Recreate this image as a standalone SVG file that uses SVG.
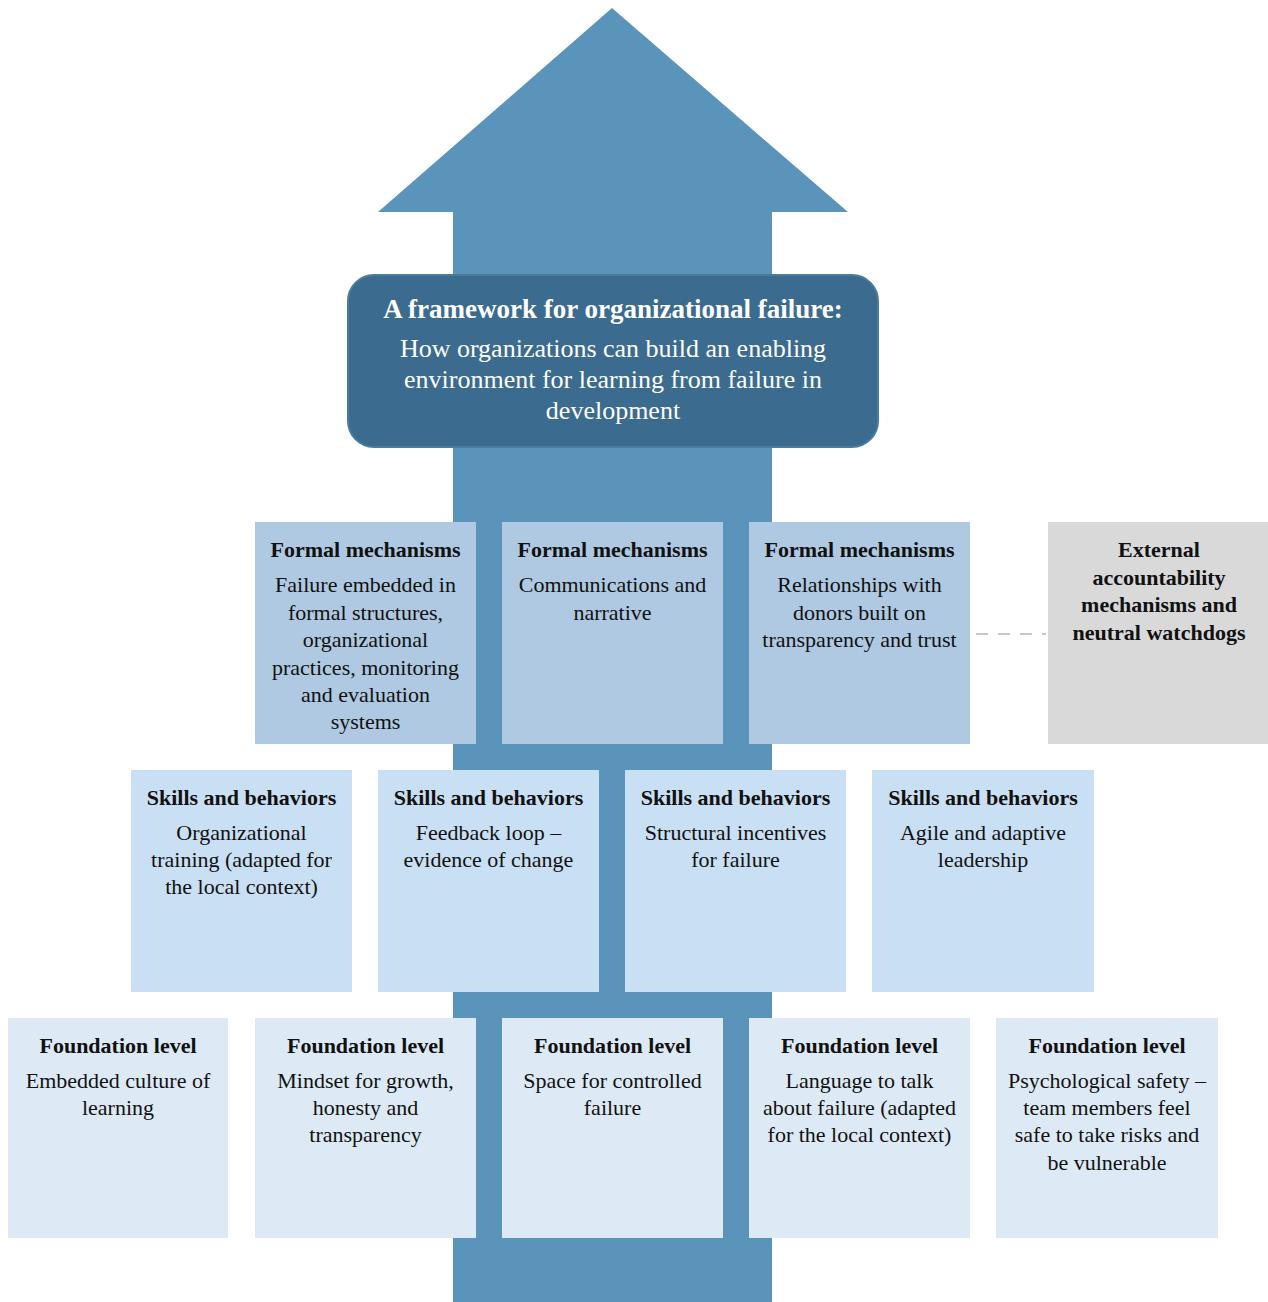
<svg xmlns="http://www.w3.org/2000/svg" width="1268" height="1302" viewBox="0 0 1268 1302">
<style>
text{font-family:'Liberation Serif',Tinos,'DejaVu Serif',serif;text-anchor:middle;fill:#111}
.h{font-weight:bold;font-size:22px}
.b{font-size:22px}
.fm{fill:#aec9e1}
.sb{fill:#c9dff3}
.fd{fill:#ddeaf6}
.ex{fill:#d9d9d9}
.tt{fill:#fff;font-weight:bold;font-size:27px}
.ts{fill:#fff;font-size:26px}
</style>
<rect width="1268" height="1302" fill="#fff"/>
<g id="arrow">
<polygon points="612,8 848,212 772,212 772,1302 453,1302 453,212 378,212" fill="#5b94bb"/>
</g>
<g id="title" font-family="Liberation Serif, serif">
<rect x="348" y="275" width="530" height="172" rx="26" fill="#3b6b8e" stroke="#4a7ca0" stroke-width="2"/>
<text x="613" y="318" class="tt">A framework for organizational failure:</text>
<text x="613" y="357" class="ts">How organizations can build an enabling</text>
<text x="613" y="388" class="ts">environment for learning from failure in</text>
<text x="613" y="419" class="ts">development</text>
</g>
<g id="connectors">
<line x1="976" y1="634" x2="1046" y2="634" stroke="#c8c8c8" stroke-width="2" stroke-dasharray="12,10"/>
</g>
<g id="formal1">
<rect x="255" y="522" width="221" height="222" class="fm"/>
<text x="365.5" y="557" class="h">Formal mechanisms</text>
<text x="365.5" y="592" class="b">Failure embedded in</text>
<text x="365.5" y="620" class="b">formal structures,</text>
<text x="365.5" y="647" class="b">organizational</text>
<text x="365.5" y="675" class="b">practices, monitoring</text>
<text x="365.5" y="702" class="b">and evaluation</text>
<text x="365.5" y="729" class="b">systems</text>
</g>
<g id="formal2">
<rect x="502" y="522" width="221" height="222" class="fm"/>
<text x="612.5" y="557" class="h">Formal mechanisms</text>
<text x="612.5" y="592" class="b">Communications and</text>
<text x="612.5" y="620" class="b">narrative</text>
</g>
<g id="formal3">
<rect x="749" y="522" width="221" height="222" class="fm"/>
<text x="859.5" y="557" class="h">Formal mechanisms</text>
<text x="859.5" y="592" class="b">Relationships with</text>
<text x="859.5" y="620" class="b">donors built on</text>
<text x="859.5" y="647" class="b">transparency and trust</text>
</g>
<g id="external">
<rect x="1048" y="522" width="220" height="222" class="ex"/>
<text x="1159" y="557" class="h">External</text>
<text x="1159" y="585" class="h">accountability</text>
<text x="1159" y="612" class="h">mechanisms and</text>
<text x="1159" y="640" class="h">neutral watchdogs</text>
</g>
<g id="skills1">
<rect x="131" y="770" width="221" height="222" class="sb"/>
<text x="241.5" y="805" class="h">Skills and behaviors</text>
<text x="241.5" y="840" class="b">Organizational</text>
<text x="241.5" y="867" class="b">training (adapted for</text>
<text x="241.5" y="894" class="b">the local context)</text>
</g>
<g id="skills2">
<rect x="378" y="770" width="221" height="222" class="sb"/>
<text x="488.5" y="805" class="h">Skills and behaviors</text>
<text x="488.5" y="840" class="b">Feedback loop –</text>
<text x="488.5" y="867" class="b">evidence of change</text>
</g>
<g id="skills3">
<rect x="625" y="770" width="221" height="222" class="sb"/>
<text x="735.5" y="805" class="h">Skills and behaviors</text>
<text x="735.5" y="840" class="b">Structural incentives</text>
<text x="735.5" y="867" class="b">for failure</text>
</g>
<g id="skills4">
<rect x="872" y="770" width="222" height="222" class="sb"/>
<text x="983" y="805" class="h">Skills and behaviors</text>
<text x="983" y="840" class="b">Agile and adaptive</text>
<text x="983" y="867" class="b">leadership</text>
</g>
<g id="found1">
<rect x="8" y="1018" width="220" height="220" class="fd"/>
<text x="118" y="1053" class="h">Foundation level</text>
<text x="118" y="1088" class="b">Embedded culture of</text>
<text x="118" y="1115" class="b">learning</text>
</g>
<g id="found2">
<rect x="255" y="1018" width="221" height="220" class="fd"/>
<text x="365.5" y="1053" class="h">Foundation level</text>
<text x="365.5" y="1088" class="b">Mindset for growth,</text>
<text x="365.5" y="1115" class="b">honesty and</text>
<text x="365.5" y="1142" class="b">transparency</text>
</g>
<g id="found3">
<rect x="502" y="1018" width="221" height="220" class="fd"/>
<text x="612.5" y="1053" class="h">Foundation level</text>
<text x="612.5" y="1088" class="b">Space for controlled</text>
<text x="612.5" y="1115" class="b">failure</text>
</g>
<g id="found4">
<rect x="749" y="1018" width="221" height="220" class="fd"/>
<text x="859.5" y="1053" class="h">Foundation level</text>
<text x="859.5" y="1088" class="b">Language to talk</text>
<text x="859.5" y="1115" class="b">about failure (adapted</text>
<text x="859.5" y="1142" class="b">for the local context)</text>
</g>
<g id="found5">
<rect x="996" y="1018" width="222" height="220" class="fd"/>
<text x="1107" y="1053" class="h">Foundation level</text>
<text x="1107" y="1088" class="b">Psychological safety –</text>
<text x="1107" y="1115" class="b">team members feel</text>
<text x="1107" y="1142" class="b">safe to take risks and</text>
<text x="1107" y="1170" class="b">be vulnerable</text>
</g>
</svg>
